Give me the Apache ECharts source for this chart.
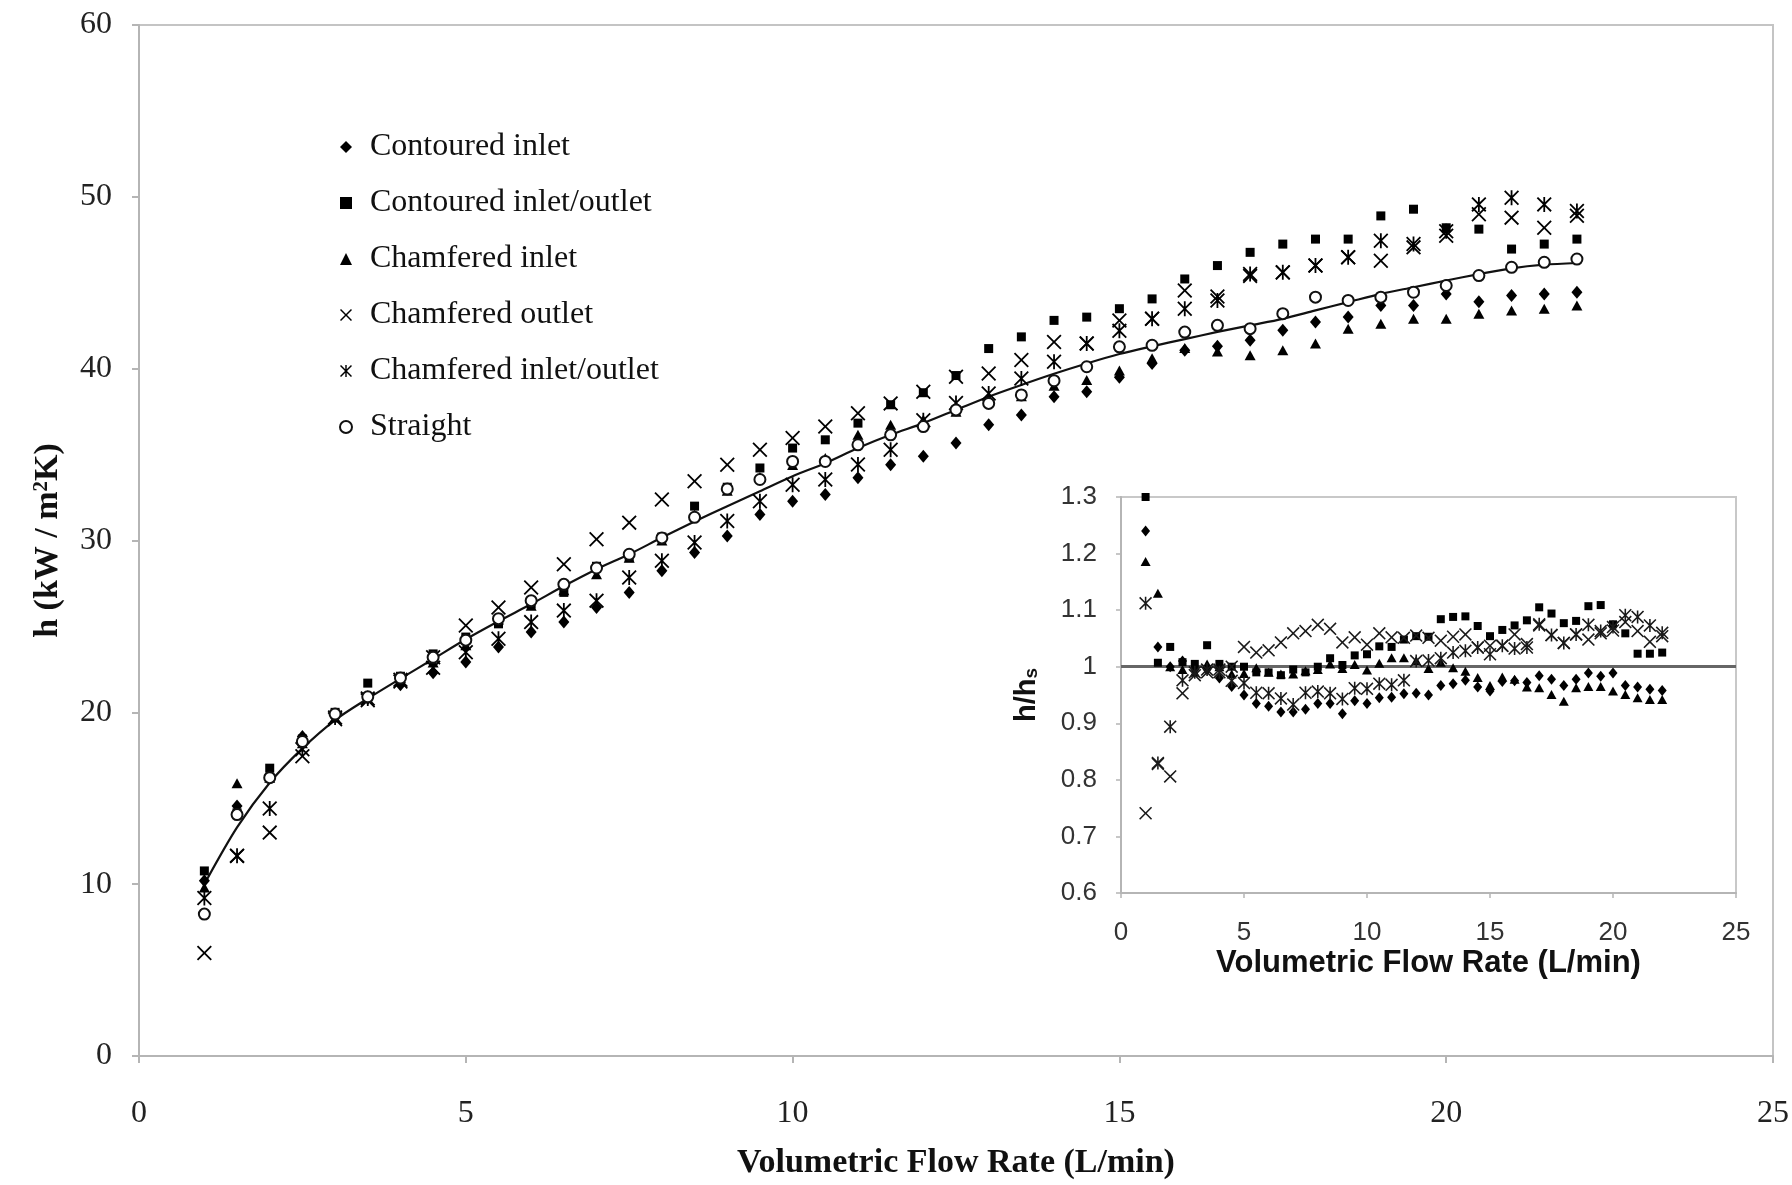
<!DOCTYPE html>
<html>
<head>
<meta charset="utf-8">
<script src="https://cdn.jsdelivr.net/npm/echarts@6/dist/echarts.min.js"></script>
<style>
  html, body { margin: 0; padding: 0; background: #fff; }
  #chart { width: 1792px; height: 1185px; }
</style>
</head>
<body>
<div id="chart"></div>
<script>
// ---------- DATA ----------
const flowRate = [1, 1.5, 2, 2.5, 3, 3.5, 4, 4.5, 5, 5.5, 6, 6.5, 7, 7.5, 8, 8.5, 9, 9.5, 10, 10.5,
  11, 11.5, 12, 12.5, 13, 13.5, 14, 14.5, 15, 15.5, 16, 16.5, 17, 17.5, 18, 18.5, 19, 19.5, 20, 20.5,
  21, 21.5, 22];

const contouredInlet = [10.2, 14.55, 16.35, 18.6, 19.8, 20.8, 21.6, 22.3, 22.93, 23.8, 24.67, 25.25, 26.1, 26.98,
  28.24, 29.3, 30.26, 31.52, 32.29, 32.68, 33.65, 34.41, 34.9, 35.67, 36.73, 37.31, 38.37, 38.66, 39.5, 40.3,
  41.07, 41.3, 41.65, 42.23, 42.71, 43.0, 43.68, 43.68, 44.35, 43.9, 44.26, 44.35, 44.45];

const contouredInletOutlet = [10.77, 14.15, 16.75, 18.45, 20.0, 21.7, 22.1, 23.4, 24.38, 25.15, 26.3, 26.98, 28.5,
  29.0, 30.2, 32.0, 33.1, 34.22, 35.38, 35.86, 36.83, 37.9, 38.6, 39.6, 41.17, 41.85, 42.81, 43.0, 43.49, 44.06,
  45.22, 46.0, 46.77, 47.25, 47.54, 47.54, 48.89, 49.28, 48.2, 48.12, 46.96, 47.25, 47.54];

const chamferedInlet = [9.8, 15.88, 16.2, 18.2, 19.7, 21.0, 22.0, 22.9, 23.9, 25.4, 26.2, 27.1, 28.04, 29.0, 30.0,
  31.5, 32.9, 33.7, 34.4, 34.8, 36.15, 36.73, 37.02, 37.5, 38.3, 38.4, 39.0, 39.34, 39.9, 40.6, 41.2, 41.0, 40.78,
  41.07, 41.46, 42.33, 42.62, 42.9, 42.9, 43.2, 43.39, 43.49, 43.68];

const chamferedOutlet = [6.0, 11.64, 13.0, 17.45, 19.6, 20.7, 21.9, 23.2, 25.05, 26.1, 27.27, 28.62, 30.07, 31.04,
  32.39, 33.45, 34.41, 35.28, 35.96, 36.63, 37.41, 37.98, 38.66, 39.53, 39.72, 40.5, 41.55, 41.46, 42.8, 42.9,
  44.55, 44.2, 45.4, 45.6, 46.0, 46.48, 46.28, 47.06, 47.73, 48.99, 48.79, 48.2, 48.9];

const chamferedInletOutlet = [9.2, 11.66, 14.4, 17.85, 19.7, 20.8, 21.8, 22.6, 23.5, 24.28, 25.25, 25.92, 26.5,
  27.85, 28.82, 29.88, 31.13, 32.29, 33.24, 33.55, 34.42, 35.28, 37.0, 38.0, 38.56, 39.43, 40.4, 41.46, 42.2, 42.9,
  43.49, 43.97, 45.51, 45.61, 46.0, 46.48, 47.44, 47.25, 48.0, 49.56, 49.95, 49.56, 49.18];

const straight = [8.26, 14.05, 16.2, 18.3, 19.9, 20.9, 22.0, 23.2, 24.2, 25.45, 26.5, 27.45, 28.4, 29.2, 30.15,
  31.35, 33.0, 33.55, 34.6, 34.6, 35.57, 36.15, 36.63, 37.6, 37.98, 38.47, 39.3, 40.11, 41.27, 41.36, 42.13, 42.52,
  42.33, 43.2, 44.16, 43.97, 44.16, 44.45, 44.84, 45.42, 45.9, 46.19, 46.38];

// fitted curve through the "Straight" data, read point by point
const fitX = [1, 1.5, 2, 2.5, 3, 3.5, 4, 4.5, 5, 5.5, 6, 6.5, 7, 7.5, 8, 8.5, 9, 9.5, 10, 10.5, 11, 11.5, 12,
  12.5, 13, 13.5, 14, 14.5, 15, 15.5, 16, 16.5, 17, 17.5, 18, 18.5, 19, 19.5, 20, 20.5, 21, 21.5, 22];
const fitY = [10.0, 13.3, 15.9, 17.9, 19.55, 20.8, 21.96, 23.1, 24.25, 25.3, 26.3, 27.35, 28.33, 29.2, 30.17, 31.1,
  32.0, 32.87, 33.74, 34.5, 35.38, 36.15, 36.83, 37.6, 38.37, 39.05, 39.7, 40.3, 40.85, 41.3, 41.72, 42.14, 42.52,
  42.9, 43.39, 43.87, 44.35, 44.74, 45.13, 45.5, 45.84, 46.05, 46.15];

// inset: h / h_s
const ratioContouredInlet = [1.24, 1.035, 1.0, 1.01, 0.995, 0.995, 0.98, 0.965, 0.95, 0.935, 0.93, 0.92, 0.92, 0.925,
  0.935, 0.935, 0.917, 0.94, 0.935, 0.945, 0.946, 0.952, 0.953, 0.95, 0.967, 0.97, 0.976, 0.964, 0.957, 0.974, 0.975,
  0.972, 0.984, 0.978, 0.967, 0.978, 0.989, 0.983, 0.989, 0.967, 0.964, 0.96, 0.958];
const ratioContouredInletOutlet = [1.30, 1.007, 1.035, 1.008, 1.005, 1.038, 1.005, 1.0, 1.0, 0.99, 0.99, 0.985, 0.995,
  0.99, 1.0, 1.015, 1.003, 1.02, 1.022, 1.036, 1.035, 1.048, 1.054, 1.053, 1.084, 1.088, 1.089, 1.072, 1.054, 1.065,
  1.073, 1.082, 1.105, 1.094, 1.077, 1.081, 1.107, 1.109, 1.075, 1.059, 1.023, 1.023, 1.025];
const ratioChamferedInlet = [1.186, 1.13, 1.0, 0.995, 0.99, 1.005, 1.0, 0.987, 0.988, 0.998, 0.99, 0.987, 0.987, 0.993,
  0.995, 1.005, 0.997, 1.004, 0.994, 1.006, 1.016, 1.016, 1.011, 0.997, 1.008, 0.998, 0.992, 0.981, 0.967, 0.982,
  0.978, 0.964, 0.963, 0.951, 0.939, 0.963, 0.965, 0.965, 0.957, 0.951, 0.945, 0.942, 0.942];
const ratioChamferedOutlet = [0.741, 0.828, 0.806, 0.953, 0.985, 0.99, 0.995, 1.0, 1.035, 1.025, 1.029, 1.043, 1.059,
  1.063, 1.074, 1.067, 1.043, 1.052, 1.039, 1.059, 1.052, 1.051, 1.055, 1.051, 1.046, 1.053, 1.057, 1.034, 1.037,
  1.037, 1.057, 1.04, 1.073, 1.056, 1.042, 1.057, 1.048, 1.059, 1.064, 1.079, 1.063, 1.044, 1.054];
const ratioChamferedInletOutlet = [1.112, 0.83, 0.894, 0.976, 0.99, 0.995, 0.99, 0.975, 0.971, 0.954, 0.953, 0.944,
  0.933, 0.954, 0.956, 0.953, 0.943, 0.962, 0.961, 0.97, 0.968, 0.976, 1.01, 1.011, 1.015, 1.025, 1.028, 1.034,
  1.022, 1.037, 1.032, 1.034, 1.075, 1.056, 1.042, 1.057, 1.074, 1.063, 1.07, 1.091, 1.088, 1.073, 1.06];
const ratioReference = 1;

const seriesNames = ['Contoured inlet', 'Contoured inlet/outlet', 'Chamfered inlet', 'Chamfered outlet',
  'Chamfered inlet/outlet', 'Straight'];

// ---------- CHART ----------
const SERIF = '"Liberation Serif", "Times New Roman", serif';
const SANS = '"Liberation Sans", Arial, sans-serif';
const X_PATH = 'path://M0,0.85 L0.85,0 L5,4.15 L9.15,0 L10,0.85 L5.85,5 L10,9.15 L9.15,10 L5,5.85 L0.85,10 L0,9.15 L4.15,5 Z';
const AST_PATH = 'path://M0,0.85 L0.85,0 L5,4.15 L9.15,0 L10,0.85 L5.85,5 L10,9.15 L9.15,10 L5,5.85 L0.85,10 L0,9.15 L4.15,5 Z M4.4,0 L5.6,0 L5.6,10 L4.4,10 Z';

const pair = (xs, ys) => xs.map((x, i) => [x, ys[i]]);

const mainStyles = [
  { symbol: 'diamond', size: [11, 13] },
  { symbol: 'rect', size: 9 },
  { symbol: 'triangle', size: [11, 10] },
  { symbol: X_PATH, size: 15 },
  { symbol: AST_PATH, size: 15 },
  { symbol: 'emptyCircle', size: 11 }
];
const mainData = [contouredInlet, contouredInletOutlet, chamferedInlet, chamferedOutlet, chamferedInletOutlet, straight];
const insetData = [ratioContouredInlet, ratioContouredInletOutlet, ratioChamferedInlet, ratioChamferedOutlet, ratioChamferedInletOutlet];
const insetStyles = [
  { symbol: 'diamond', size: [9, 11] },
  { symbol: 'rect', size: 8 },
  { symbol: 'triangle', size: [10, 9] },
  { symbol: X_PATH, size: 13 },
  { symbol: AST_PATH, size: 13 }
];

const series = [];
mainData.forEach((arr, i) => {
  const st = mainStyles[i];
  series.push({
    name: seriesNames[i],
    type: 'scatter',
    xAxisIndex: 0, yAxisIndex: 0,
    symbol: st.symbol,
    symbolSize: st.size,
    data: pair(flowRate, arr),
    itemStyle: i === 5
      ? { color: '#111', borderColor: '#111', borderWidth: 1.6, opacity: 1 }
      : { color: '#000', opacity: 1 },
    z: 3
  });
});
series.push({
  name: 'Straight fit',
  type: 'line',
  xAxisIndex: 0, yAxisIndex: 0,
  data: pair(fitX, fitY),
  smooth: 0.3,
  showSymbol: false,
  symbol: 'none',
  lineStyle: { color: '#111', width: 2.2 },
  z: 2
});
insetData.forEach((arr, i) => {
  const st = insetStyles[i];
  const s = {
    name: seriesNames[i] + ' (h/hs)',
    type: 'scatter',
    xAxisIndex: 1, yAxisIndex: 1,
    symbol: st.symbol,
    symbolSize: st.size,
    data: pair(flowRate, arr),
    itemStyle: { color: i >= 3 ? '#1a1a1a' : '#000', opacity: 1 },
    z: 4
  };
  if (i === 0) {
    s.markLine = {
      silent: true,
      symbol: ['none', 'none'],
      label: { show: false },
      lineStyle: { color: '#666', width: 3, type: 'solid', opacity: 1 },
      data: [{ yAxis: ratioReference }],
      z: 3
    };
  }
  series.push(s);
});

const axisGray = '#b5b5b5';

const option = {
  animation: false,
  backgroundColor: '#fff',
  legend: {
    orient: 'vertical',
    left: 334,
    top: 126,
    itemWidth: 12,
    itemHeight: 12,
    itemGap: 24,
    selectedMode: false,
    textStyle: { fontFamily: SERIF, fontSize: 32, color: '#111', padding: [0, 0, 0, 13] },
    data: seriesNames
  },
  grid: [
    { left: 139, right: 18, top: 25, bottom: 124, show: true, borderColor: '#c4c4c4', borderWidth: 2, backgroundColor: 'transparent' },
    { left: 1121, right: 56, top: 497, bottom: 292, show: true, borderColor: '#c8c8c8', borderWidth: 2, backgroundColor: '#fff' }
  ],
  xAxis: [
    {
      type: 'value', gridIndex: 0, min: 0, max: 25, interval: 5,
      name: 'Volumetric Flow Rate (L/min)', nameLocation: 'middle', nameGap: 90,
      nameTextStyle: { fontFamily: SERIF, fontSize: 34, fontWeight: 'bold', color: '#111' },
      axisLine: { show: true, lineStyle: { color: axisGray, width: 2 } },
      axisTick: { show: true, inside: false, length: 7, lineStyle: { color: axisGray, width: 2 } },
      axisLabel: { fontFamily: SERIF, fontSize: 32, color: '#222', margin: 42 },
      splitLine: { show: false }
    },
    {
      type: 'value', gridIndex: 1, min: 0, max: 25, interval: 5,
      name: 'Volumetric Flow Rate (L/min)', nameLocation: 'middle', nameGap: 55,
      nameTextStyle: { fontFamily: SANS, fontSize: 31, fontWeight: 'bold', color: '#111' },
      axisLine: { show: true, lineStyle: { color: axisGray, width: 2 } },
      axisTick: { show: true, inside: false, length: 5, lineStyle: { color: axisGray, width: 1.5 } },
      axisLabel: { fontFamily: SANS, fontSize: 26, color: '#333', margin: 27 },
      splitLine: { show: false }
    }
  ],
  yAxis: [
    {
      type: 'value', gridIndex: 0, min: 0, max: 60, interval: 10,
      name: 'h (kW / m{sup|2}K)', nameLocation: 'middle', nameGap: 74,
      nameTextStyle: {
        fontFamily: SERIF, fontSize: 34, fontWeight: 'bold', color: '#111',
        rich: { sup: { fontFamily: SERIF, fontSize: 21, fontWeight: 'bold', color: '#111', verticalAlign: 'top', lineHeight: 34 } }
      },
      axisLine: { show: true, lineStyle: { color: axisGray, width: 2 } },
      axisTick: { show: true, inside: false, length: 7, lineStyle: { color: axisGray, width: 2 } },
      axisLabel: { fontFamily: SERIF, fontSize: 32, color: '#222', margin: 27 },
      splitLine: { show: false }
    },
    {
      type: 'value', gridIndex: 1, min: 0.6, max: 1.3, interval: 0.1,
      name: 'h/h{sub|s}', nameLocation: 'middle', nameGap: 80,
      nameTextStyle: {
        fontFamily: SANS, fontSize: 29, fontWeight: 'bold', color: '#111',
        rich: { sub: { fontFamily: SANS, fontSize: 19, fontWeight: 'bold', color: '#111', verticalAlign: 'bottom', lineHeight: 29 } }
      },
      axisLine: { show: true, lineStyle: { color: axisGray, width: 2 } },
      axisTick: { show: true, inside: false, length: 5, lineStyle: { color: axisGray, width: 1.5 } },
      axisLabel: { fontFamily: SANS, fontSize: 26, color: '#333', margin: 24,
        formatter: v => (Math.round(v * 10) / 10).toString() },
      splitLine: { show: false }
    }
  ],
  series: series
};

const chart = echarts.init(document.getElementById('chart'), null, { renderer: 'canvas' });
chart.setOption(option);
</script>
</body>
</html>
